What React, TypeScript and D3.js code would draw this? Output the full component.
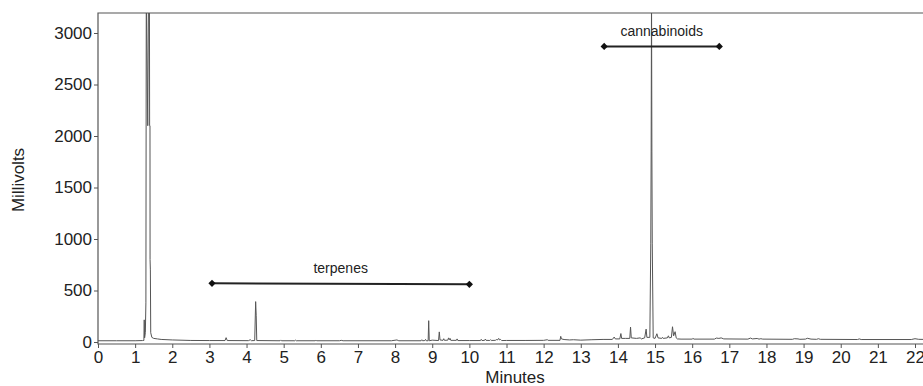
import React, { useRef, useEffect } from 'react';
import * as d3 from 'd3';

// retention time (min), detector response (mV)
const solventPeak: [number, number][] = [
  [0, 12], [0.5, 12], [1.0, 12], [1.2, 14], [1.235, 15], [1.245, 215], [1.255, 40],
  [1.275, 90], [1.29, 380], [1.3, 3400], [1.34, 2100], [1.36, 3400], [1.385, 3400],
  [1.39, 2100], [1.4, 2100], [1.402, 800], [1.41, 700], [1.42, 90], [1.45, 45],
  [1.5, 35], [1.6, 30], [1.7, 25], [2.0, 20]
];

const terpeneTrace: [number, number][] = [
  [2.5, 15], [3.0, 14], [3.42, 14], [3.45, 42], [3.48, 14], [4.05, 13], [4.1, 22],
  [4.13, 13], [4.22, 14], [4.245, 392], [4.26, 260], [4.275, 14], [4.9, 12], [4.92, 20],
  [4.94, 12], [5.3, 12], [5.32, 18], [5.34, 12], [5.85, 12], [5.87, 18], [5.89, 12],
  [6.5, 12], [6.55, 16], [6.6, 12], [7.9, 12], [8.05, 20], [8.1, 12], [8.7, 12],
  [8.72, 22], [8.74, 12], [8.8, 14], [8.82, 25], [8.84, 12], [8.89, 12], [8.905, 207],
  [8.92, 12], [9.0, 18], [9.17, 14], [9.19, 98], [9.21, 20], [9.29, 16], [9.31, 32],
  [9.33, 16], [9.42, 18], [9.44, 40], [9.46, 22], [9.48, 35], [9.5, 16], [9.65, 16],
  [9.67, 30], [9.69, 14], [10.0, 14], [10.3, 14], [10.32, 26], [10.34, 14], [10.41, 16],
  [10.43, 28], [10.45, 16], [10.55, 15], [10.57, 22], [10.59, 15], [10.7, 16],
  [10.73, 24], [10.75, 18], [10.79, 35], [10.81, 20], [10.84, 25], [10.87, 14],
  [11.0, 15], [11.5, 15], [12.0, 16], [12.1, 22], [12.12, 16]
];

const cannabinoidTrace: [number, number][] = [
  [12.44, 16], [12.46, 55], [12.48, 30], [12.55, 24], [12.7, 20], [12.8, 22], [13.0, 18],
  [13.3, 22], [13.6, 25], [13.85, 25], [13.9, 48], [13.93, 30], [14.05, 30], [14.08, 82],
  [14.1, 35], [14.2, 35], [14.32, 35], [14.34, 145], [14.36, 40], [14.5, 35], [14.6, 40],
  [14.63, 30], [14.72, 40], [14.76, 125], [14.78, 45], [14.86, 45], [14.885, 960],
  [14.895, 1845], [14.905, 3400], [14.915, 1845], [14.925, 960], [14.95, 40], [15.0, 35],
  [15.05, 80], [15.08, 40], [15.18, 35], [15.2, 45], [15.22, 35], [15.33, 40], [15.36, 60],
  [15.38, 40], [15.44, 45], [15.47, 148], [15.5, 60], [15.54, 100], [15.57, 40], [15.6, 30],
  [15.7, 28], [16.0, 28], [16.02, 35], [16.05, 28]
];

const tailTrace: [number, number][] = [
  [16.6, 28], [16.65, 38], [16.72, 35], [16.78, 40], [16.85, 30], [17.5, 28], [17.57, 38],
  [17.62, 30], [17.75, 34], [17.8, 28], [17.85, 32], [17.9, 28], [18.7, 26], [18.75, 32],
  [18.85, 30], [18.9, 26], [19.05, 28], [19.1, 36], [19.2, 28], [19.35, 26], [19.4, 32],
  [19.45, 26], [20.45, 24], [20.5, 30], [20.55, 24], [21.9, 24], [22.0, 32], [22.1, 26],
  [22.4, 24]
];

const xTicks = d3.range(0, 23);
const yTicks = [0, 500, 1000, 1500, 2000, 2500, 3000];

// labelled ranges: [start min, end min, mV level at start, mV level at end]
const regionNames = ['terpenes', 'cannabinoids'];
const regionStart = [3.07, 13.63];
const regionEnd = [10.0, 16.73];
const regionLevelStart = [570, 2870];
const regionLevelEnd = [560, 2870];

const Chromatogram: React.FC = () => {
  const svgRef = useRef<SVGSVGElement | null>(null);

  useEffect(() => {
    const svg = d3.select(svgRef.current);
    svg.selectAll('*').remove();
    const width = 923;
    const height = 386;
    const plotTop = 13;
    const plotBottom = 344;
    const plotLeft = 98;

    svg.attr('width', width).attr('height', height);

    const x = d3.scaleLinear().domain([0, 22]).range([plotLeft, 915]);
    const y = d3.scaleLinear().domain([0, 3000]).range([342, 33]);

    svg.append('clipPath').attr('id', 'plot-clip')
      .append('rect')
      .attr('x', plotLeft).attr('y', plotTop)
      .attr('width', width - plotLeft).attr('height', plotBottom - plotTop);

    const trace = [...solventPeak, ...terpeneTrace, ...cannabinoidTrace, ...tailTrace];
    const line = d3.line<[number, number]>().x(d => x(d[0])).y(d => y(d[1]));

    svg.append('path')
      .datum(trace)
      .attr('clip-path', 'url(#plot-clip)')
      .attr('d', line)
      .attr('fill', 'none')
      .attr('stroke', '#555')
      .attr('stroke-width', 1);

    // frame
    svg.append('path')
      .attr('d', `M${width + 5},${plotTop}H${plotLeft}V${plotBottom}H${width + 5}`)
      .attr('fill', 'none')
      .attr('stroke', '#555')
      .attr('stroke-width', 1.2);

    const font = '"Liberation Sans", Arial, sans-serif';

    const yAxis = svg.append('g')
      .attr('transform', `translate(${plotLeft},0)`)
      .call(d3.axisLeft(y).tickValues(yTicks).tickSize(4).tickSizeOuter(0).tickPadding(2).tickFormat(d3.format('d')));
    yAxis.select('.domain').remove();

    const xAxis = svg.append('g')
      .attr('transform', `translate(0,${plotBottom})`)
      .call(d3.axisBottom(x).tickValues(xTicks).tickSize(4).tickSizeOuter(0).tickPadding(3).tickFormat(d3.format('d')));
    xAxis.select('.domain').remove();

    [yAxis, xAxis].forEach(g => {
      g.selectAll('line').attr('stroke', '#555');
      g.selectAll('text')
        .style('font-family', font)
        .style('font-size', '17px')
        .attr('fill', '#222');
    });

    svg.append('text')
      .attr('x', 515)
      .attr('y', 383)
      .attr('text-anchor', 'middle')
      .style('font-family', font)
      .style('font-size', '17px')
      .attr('fill', '#222')
      .text('Minutes');

    svg.append('text')
      .attr('transform', 'translate(24,180) rotate(-90)')
      .attr('text-anchor', 'middle')
      .style('font-family', font)
      .style('font-size', '17px')
      .attr('fill', '#222')
      .text('Millivolts');

    // region brackets
    const diamond = d3.symbol().type(d3.symbolSquare).size(26);
    regionNames.forEach((name, i) => {
      const x0 = x(regionStart[i]);
      const x1 = x(regionEnd[i]);
      const y0 = y(regionLevelStart[i]);
      const y1 = y(regionLevelEnd[i]);
      svg.append('line')
        .attr('x1', x0).attr('y1', y0)
        .attr('x2', x1).attr('y2', y1)
        .attr('stroke', '#222')
        .attr('stroke-width', 2);
      [[x0, y0], [x1, y1]].forEach(([cx, cy]) => {
        svg.append('path')
          .attr('d', diamond())
          .attr('transform', `translate(${cx},${cy}) rotate(45)`)
          .attr('fill', '#111');
      });
      svg.append('text')
        .attr('x', (x0 + x1) / 2)
        .attr('y', Math.min(y0, y1) - 10)
        .attr('text-anchor', 'middle')
        .style('font-family', font)
        .style('font-size', '14px')
        .attr('fill', '#222')
        .text(name);
    });
  }, []);

  return <svg ref={svgRef} style={{ position: 'absolute', left: 0, top: 0 }}></svg>;
};

export default function App() {
  return <Chromatogram />;
}
